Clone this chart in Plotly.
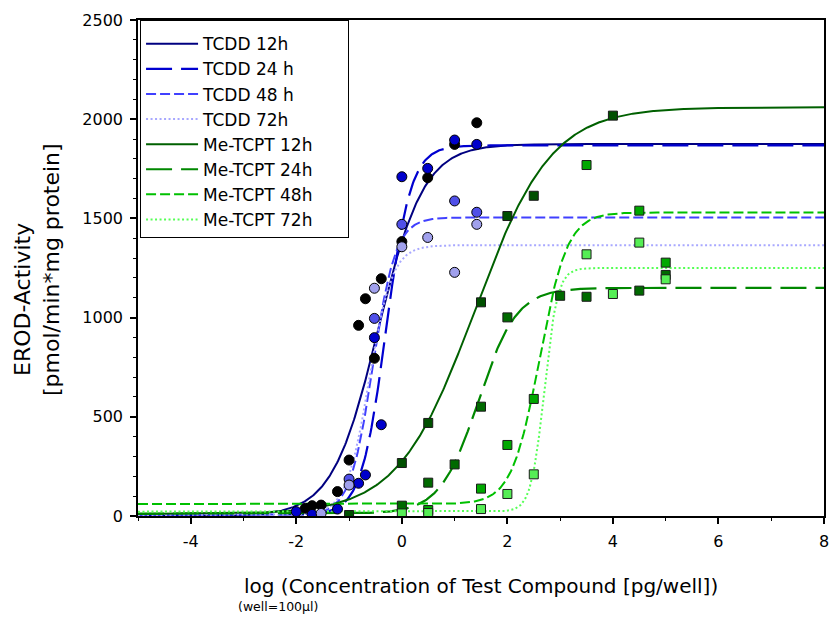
import numpy as np
import plotly.graph_objects as go

# ---------------- data ----------------
series_names = ["TCDD 12h", "TCDD 24 h", "TCDD 48 h", "TCDD 72h",
                "Me-TCPT 12h", "Me-TCPT 24h", "Me-TCPT 48h", "Me-TCPT 72h"]

# fitted sigmoid (Hill) parameters
fit_bottom = [0, 5, 5, 5, 10, 12, 60, 22]
fit_top = [1875, 1868, 1505, 1365, 2060, 1150, 1530, 1250]
fit_logec50 = [-0.45, -0.30, -0.55, -0.62, 1.38, 1.45, 2.61, 2.70]
fit_hill = [1.0, 1.85, 2.0, 2.0, 0.6, 1.2, 1.65, 3.45]

# measured points
tcdd12_x = [-1.83, -1.7, -1.53, -1.22, -1.0, -0.82, -0.69, -0.52, -0.39, 0.0, 0.49, 1.0, 1.42]
tcdd12_y = [39, 52, 55, 123, 282, 961, 1095, 795, 1196, 1383, 1705, 1873, 1982]
tcdd24_x = [-2.0, -1.7, -1.22, -0.82, -0.69, -0.52, -0.39, 0.0, 0.49, 1.0, 1.42]
tcdd24_y = [22, 8, 35, 165, 207, 899, 460, 1710, 1752, 1895, 1873]
tcdd48_x = [-1.0, -0.52, 0.0, 1.0, 1.42]
tcdd48_y = [186, 996, 1470, 1588, 1531]
tcdd72_x = [-1.53, -1.0, -0.52, 0.0, 0.49, 1.0, 1.42]
tcdd72_y = [13, 156, 1148, 1357, 1404, 1228, 1470]

me12_x = [-1.0, 0.0, 0.5, 1.5, 2.0, 2.5, 4.0]
me12_y = [5, 267, 469, 1077, 1512, 1614, 2018]
me24_x = [0.0, 0.5, 1.0, 1.5, 2.0, 3.0, 3.5, 4.5, 5.0]
me24_y = [52, 168, 260, 551, 1001, 1110, 1105, 1136, 1215]
me48_x = [0.5, 1.5, 2.0, 2.5, 3.5, 4.5, 5.0]
me48_y = [30, 138, 358, 590, 1769, 1539, 1277]
me72_x = [0.0, 0.5, 1.5, 2.0, 2.5, 3.5, 4.0, 4.5, 5.0]
me72_y = [13, 15, 35, 111, 210, 1319, 1119, 1378, 1193]

point_x = [tcdd12_x, tcdd24_x, tcdd48_x, tcdd72_x, me12_x, me24_x, me48_x, me72_x]
point_y = [tcdd12_y, tcdd24_y, tcdd48_y, tcdd72_y, me12_y, me24_y, me48_y, me72_y]

x_range = [-5, 8]
y_range = [0, 2500]
x_tickvals = [-4, -2, 0, 2, 4, 6, 8]
x_ticktext = ["-4", "-2", "0", "2", "4", "6", "8"]
y_tickvals = [0, 500, 1000, 1500, 2000, 2500]
y_ticktext = ["0", "500", "1000", "1500", "2000", "2500"]

# ---------------- styles ----------------
FONT = "DejaVu Sans, Liberation Sans, Arial, sans-serif"
line_colors = ["#000080", "#0000D0", "#4040FF", "#A8A8FF",
               "#006000", "#008800", "#00C000", "#55FF55"]
line_dashes = ["solid", "26px,9px", "10px,4px", "2px,2.5px",
               "solid", "26px,9px", "10px,4px", "2px,2.5px"]
line_widths = [2, 2.2, 2, 2, 2, 2.2, 2, 2]
marker_fill = ["#000000", "#0000CC", "#5050E8", "#A0A0EC",
               "#005000", "#006A00", "#00A800", "#55EE55"]
marker_symbol = ["circle"] * 4 + ["square"] * 4

fig = go.Figure()
xc = np.linspace(x_range[0], x_range[1], 700)

# fitted curves
for i, name in enumerate(series_names):
    b, t, c, h = fit_bottom[i], fit_top[i], fit_logec50[i], fit_hill[i]
    yc = b + (t - b) / (1 + 10 ** ((c - xc) * h))
    fig.add_trace(go.Scatter(
        x=xc, y=yc, mode="lines", name=name,
        line=dict(color=line_colors[i], dash=line_dashes[i], width=line_widths[i]),
        hoverinfo="skip", legendrank=i + 1))

# measured points
for i, name in enumerate(series_names):
    fig.add_trace(go.Scatter(
        x=point_x[i], y=point_y[i], mode="markers", showlegend=False, name=name,
        marker=dict(symbol=marker_symbol[i], size=10 if i < 4 else 9,
                    color=marker_fill[i],
                    line=dict(color="#000000" if i < 4 else "#1a1a1a", width=1))))

tick_font = dict(family=FONT, size=16, color="#000")

# invisible spacer title widens the legend box to the reference width
legend_spacer = "\u00a0" * 159

fig.update_layout(
    width=833, height=623,
    margin=dict(l=138, r=9, t=20, b=107),
    paper_bgcolor="white", plot_bgcolor="white",
    font=dict(family=FONT, color="#000"),
    showlegend=True,
    legend=dict(x=0.003, y=1.0, xanchor="left", yanchor="top",
                bgcolor="white", bordercolor="#000", borderwidth=1,
                font=dict(family=FONT, size=17, color="#000"),
                title=dict(text=legend_spacer, font=dict(size=4)),
                tracegroupgap=0, itemwidth=52),
    xaxis=dict(range=x_range, showgrid=False, zeroline=False, automargin=False,
               showline=True, linecolor="#000", linewidth=1.5, mirror=True,
               ticks="outside", ticklen=6, tickwidth=1.5, tickcolor="#000",
               tickvals=x_tickvals, ticktext=x_ticktext, tickfont=tick_font,
               ticklabelstandoff=4,
               minor=dict(ticks="outside", ticklen=3, tickwidth=1, tickcolor="#000",
                          tick0=-5, dtick=1, showgrid=False)),
    yaxis=dict(range=y_range, showgrid=False, zeroline=False, automargin=False,
               showline=True, linecolor="#000", linewidth=1.5, mirror=True,
               ticks="outside", ticklen=6, tickwidth=1.5, tickcolor="#000",
               tickvals=y_tickvals, ticktext=y_ticktext, tickfont=tick_font,
               ticklabelstandoff=4,
               minor=dict(ticks="outside", ticklen=3, tickwidth=1, tickcolor="#000",
                          tick0=0, dtick=100, showgrid=False)),
    annotations=[
        dict(text="log (Concentration of Test Compound [pg/well])", xref="paper", yref="paper",
             x=0.5, y=0, xanchor="center", yanchor="middle", yshift=-70, showarrow=False,
             font=dict(family=FONT, size=20, color="#000")),
        dict(text="(well=100µl)", xref="paper", yref="paper",
             x=0, y=0, xanchor="left", yanchor="middle", xshift=98, yshift=-90, showarrow=False,
             font=dict(family=FONT, size=12.5, color="#000")),
        dict(text="EROD-Activity", xref="paper", yref="paper",
             x=0, y=0.4355, xanchor="center", yanchor="middle", xshift=-115, showarrow=False,
             textangle=-90, font=dict(family=FONT, size=22, color="#000")),
        dict(text="[pmol/min*mg protein]", xref="paper", yref="paper",
             x=0, y=0.496, xanchor="center", yanchor="middle", xshift=-86, showarrow=False,
             textangle=-90, font=dict(family=FONT, size=22, color="#000")),
    ],
)

fig.write_html("out.html")
